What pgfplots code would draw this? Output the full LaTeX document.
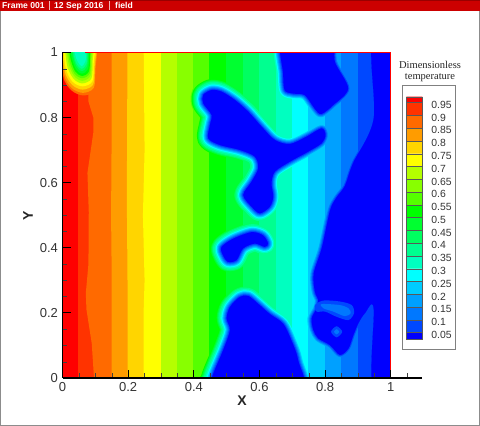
\documentclass[border=0pt]{standalone}
\usepackage{pgfplots}
\usepackage{fontspec}
\setmainfont{Liberation Sans}
\newfontfamily\serifttl{Liberation Serif}
\pgfplotsset{compat=1.18}
\usepackage{pgfplotstable}
\definecolor{c01}{HTML}{0000FF}\definecolor{c02}{HTML}{0048FF}\definecolor{c03}{HTML}{0078FF}
\definecolor{c04}{HTML}{00A0FF}\definecolor{c05}{HTML}{00CCFF}\definecolor{c06}{HTML}{00FFFF}
\definecolor{c07}{HTML}{00FFC0}\definecolor{c08}{HTML}{00FF90}\definecolor{c09}{HTML}{00FF60}
\definecolor{c10}{HTML}{00FF30}\definecolor{c11}{HTML}{00FF00}\definecolor{c12}{HTML}{55FF00}
\definecolor{c13}{HTML}{88FF00}\definecolor{c14}{HTML}{B4FF00}\definecolor{c15}{HTML}{FFFF00}
\definecolor{c16}{HTML}{FFD500}\definecolor{c17}{HTML}{FF9C00}\definecolor{c18}{HTML}{FF6A00}
\definecolor{c19}{HTML}{FF3300}\definecolor{c20}{HTML}{FF0000}
\definecolor{ticktxt}{HTML}{333333}
\definecolor{hdr}{HTML}{CC0000}
\pgfplotstableread{
0.4287 0.8694
0.4541 0.8848
0.4845 0.8797
0.5251 0.8541
0.5657 0.8182
0.6063 0.7722
0.6469 0.7312
0.6925 0.7189
0.7433 0.7414
0.7889 0.7670
0.8011 0.7466
0.7889 0.7210
0.7483 0.6954
0.6925 0.6646
0.6469 0.6339
0.6367 0.5981
0.6418 0.5571
0.6317 0.5264
0.6012 0.5059
0.5759 0.5264
0.5505 0.5622
0.5759 0.6032
0.5961 0.6442
0.5860 0.6800
0.5403 0.7005
0.4795 0.7158
0.4440 0.7363
0.4490 0.7773
0.4541 0.8080
0.4287 0.8438
}\bird
\pgfplotstableread{
0.484 0.402
0.520 0.428
0.576 0.448
0.611 0.438
0.626 0.413
0.616 0.403
0.586 0.413
0.550 0.398
0.530 0.362
0.504 0.357
0.489 0.377
}\blobtwo
\pgfplotstableread{
0.455 -0.05
0.455 0.000
0.490 0.087
0.510 0.147
0.500 0.183
0.510 0.218
0.540 0.249
0.566 0.252
0.596 0.228
0.631 0.197
0.672 0.167
0.697 0.116
0.718 0.054
0.725 -0.05
}\blobthree
\pgfplotstableread{
0.670 1.05
0.672 0.935
0.677 0.884
0.702 0.874
0.738 0.869
0.768 0.828
0.788 0.811
0.824 0.838
0.870 0.889
0.830 0.970
0.815 1.05
}\blobfour
\pgfplotstableread{
0.948 1.05
1.10 1.05
1.10 -0.05
0.950 -0.05
0.948 0.214
0.921 0.199
0.901 0.168
0.886 0.132
0.871 0.091
0.845 0.071
0.815 0.101
0.779 0.122
0.764 0.148
0.759 0.183
0.774 0.214
0.779 0.240
0.769 0.265
0.765 0.320
0.790 0.400
0.815 0.515
0.835 0.555
0.860 0.590
0.885 0.660
0.948 0.797
}\rightpart
\newcommand{\blob}[3]{\addplot[fill=#1,draw=#1,line width=#3,line join=round,smooth cycle,forget plot] table[x index=0,y index=1] {#2};}
\newcommand{\band}[2]{\addplot[fill=#1,draw=none,forget plot] coordinates {(#2,-0.05)(1.1,-0.05)(1.1,1.05)(#2,1.05)};}
\newcommand{\layer}[3]{\band{#1}{#2}%
 \blob{#1}{\bird}{#3}\blob{#1}{\blobtwo}{#3}\blob{#1}{\blobthree}{#3}\blob{#1}{\blobfour}{#3}\blob{#1}{\rightpart}{#3}}
\newcommand{\hot}[2]{\addplot[fill=#1,draw=none,smooth cycle,forget plot] coordinates {#2};}
\newcommand{\cb}[3]{\addplot[fill=#1,draw=black!65,line width=0.4pt,forget plot] coordinates {(0,#2)(1,#2)(1,#3)(0,#3)(0,#2)};}
\begin{document}
\begin{tikzpicture}[x=1pt,y=1pt]
\useasboundingbox (0,0) rectangle (480,426);
\fill[white] (0,0) rectangle (480,426);
\fill[black!45] (0,0) rectangle (1,415);
\fill[black!45] (479,0) rectangle (480,415);
\fill[black!45] (0,0) rectangle (480,1);
\fill[hdr] (0,415) rectangle (480,426);
\fill[hdr!75!black] (0,425.3) rectangle (480,426);
\fill[white!70!hdr] (49,415.5) rectangle (49.7,425);
\fill[white!70!hdr] (109,415.5) rectangle (109.7,425);
\begin{scope}[every node/.style={text=white,font=\fontsize{8.6}{9}\selectfont\bfseries,inner sep=0pt,anchor=base west}]
\node at (2,417.3) {Frame 001};
\node at (54,417.3) {12 Sep 2016};
\node at (115,417.3) {field};
\end{scope}
% contour field
\begin{axis}[at={(62.5pt,48pt)},anchor=south west,scale only axis,width=328.3pt,height=325.5pt,
  xmin=0,xmax=1,ymin=0,ymax=1,hide axis]
\addplot[fill=c20,draw=none,forget plot] coordinates {(-0.05,-0.05)(1.1,-0.05)(1.1,1.05)(-0.05,1.05)};
\band{c19}{0.048}
% T=0.9 contour wiggles
\addplot[fill=c18,draw=none,forget plot] coordinates {(0.098,-0.05)(0.096,0)(0.089,0.107)(0.073,0.21)(0.071,0.26)(0.079,0.35)(0.080,0.51)(0.076,0.63)(0.094,0.755)(0.094,0.80)(0.079,0.85)(0.079,1.05)(1.1,1.05)(1.1,-0.05)};
\addplot[fill=c17,draw=none,forget plot] coordinates {(0.150,-0.05)(0.150,0.3)(0.148,0.5)(0.150,0.8)(0.150,1.05)(1.1,1.05)(1.1,-0.05)};
\addplot[fill=c16,draw=none,forget plot] coordinates {(0.198,-0.05)(0.198,0.3)(0.196,0.55)(0.198,1.05)(1.1,1.05)(1.1,-0.05)};
\addplot[fill=c15,draw=none,forget plot] coordinates {(0.247,-0.05)(0.247,0.2)(0.250,0.3)(0.245,0.5)(0.250,0.7)(0.247,1.05)(1.1,1.05)(1.1,-0.05)};
\band{c14}{0.299}
\band{c13}{0.348}
\layer{c12}{0.398}{24pt}
\layer{c11}{0.447}{22pt}
\layer{c10}{0.499}{20pt}
\layer{c09}{0.549}{18pt}
\layer{c08}{0.599}{16pt}
\layer{c07}{0.649}{13pt}
\layer{c06}{0.699}{10.5pt}
\layer{c05}{0.749}{8.5pt}
\layer{c04}{0.799}{6.5pt}
\layer{c03}{0.849}{4.5pt}
\layer{c02}{0.899}{2.5pt}
\layer{c01}{0.949}{0.1pt}
% warmer finger and spot inside the cold pocket
\hot{c02}{(0.769,0.224)(0.795,0.238)(0.845,0.235)(0.881,0.224)(0.888,0.199)(0.871,0.178)(0.835,0.188)(0.80,0.204)(0.774,0.204)}
\hot{c03}{(0.789,0.227)(0.845,0.224)(0.871,0.214)(0.878,0.199)(0.860,0.190)(0.825,0.204)(0.795,0.214)}
\hot{c02}{(0.835,0.159)(0.852,0.142)(0.835,0.125)(0.818,0.142)}
\hot{c03}{(0.835,0.150)(0.843,0.142)(0.835,0.134)(0.827,0.142)}
% cold spot at the top left
\hot{c18}{(0.002,1.05)(0.002,0.928)(0.028,0.883)(0.064,0.868)(0.100,0.883)(0.105,0.938)(0.105,1.05)}
\hot{c17}{(0.004,1.05)(0.004,0.936)(0.028,0.891)(0.062,0.876)(0.095,0.891)(0.100,0.946)(0.100,1.05)}
\hot{c16}{(0.006,1.05)(0.006,0.946)(0.029,0.901)(0.061,0.886)(0.093,0.901)(0.098,0.956)(0.098,1.05)}
\hot{c15}{(0.009,1.05)(0.009,0.956)(0.030,0.911)(0.061,0.896)(0.091,0.911)(0.095,0.966)(0.095,1.05)}
\hot{c14}{(0.013,1.05)(0.013,0.965)(0.033,0.920)(0.060,0.905)(0.088,0.920)(0.092,0.975)(0.092,1.05)}
\hot{c13}{(0.017,1.05)(0.017,0.973)(0.035,0.928)(0.060,0.913)(0.085,0.928)(0.089,0.983)(0.089,1.05)}
\hot{c12}{(0.020,1.05)(0.020,0.981)(0.036,0.936)(0.060,0.921)(0.083,0.936)(0.086,0.991)(0.086,1.05)}
\hot{c11}{(0.023,1.05)(0.023,0.988)(0.038,0.943)(0.060,0.928)(0.081,0.943)(0.084,0.998)(0.084,1.05)}
\hot{c10}{(0.026,1.05)(0.026,0.995)(0.040,0.950)(0.059,0.935)(0.078,0.950)(0.081,1.000)(0.081,1.05)}
\hot{c09}{(0.030,1.05)(0.030,1.000)(0.042,0.958)(0.059,0.943)(0.075,0.958)(0.078,1.000)(0.078,1.05)}
\hot{c08}{(0.033,1.05)(0.033,1.000)(0.043,0.965)(0.058,0.950)(0.073,0.965)(0.075,1.000)(0.075,1.05)}
\hot{c07}{(0.037,1.05)(0.037,1.000)(0.046,0.973)(0.058,0.958)(0.070,0.973)(0.072,1.000)(0.072,1.05)}
\end{axis}
% axes frame and ticks
\begin{axis}[at={(62.5pt,48pt)},anchor=south west,scale only axis,width=359.3pt,height=325.5pt,
  xmin=0,xmax=1.0945,ymin=0,ymax=1,clip=false,axis lines=left,
  axis line style={-,line width=1.3pt,black},
  xtick={0,0.2,0.4,0.6,0.8,1},ytick={0,0.2,0.4,0.6,0.8,1},
  minor xtick={0.05,0.1,0.15,0.25,0.3,0.35,0.45,0.5,0.55,0.65,0.7,0.75,0.85,0.9,0.95,1.05},
  minor ytick={0.05,0.1,0.15,0.25,0.3,0.35,0.45,0.5,0.55,0.65,0.7,0.75,0.85,0.9,0.95},
  tick align=inside,major tick length=8pt,minor tick length=4.5pt,
  major tick style={black,line width=1pt},minor tick style={black!75,line width=0.4pt},
  tick label style={font=\fontsize{13}{13}\selectfont,text=ticktxt},
  xticklabel style={yshift=-1pt},yticklabel style={xshift=-1pt},
  /pgf/number format/assume math mode=true]
\addplot[red,line width=1.3pt,forget plot] coordinates {(0.07,1)(1,1)(1,0.025)};
\end{axis}
\node[font=\fontsize{14}{14}\selectfont\bfseries,text=black!85] at (242,25) {X};
\node[font=\fontsize{14}{14}\selectfont\bfseries,text=black!85,rotate=90] at (28,210) {Y};
% legend
\draw[black!50,line width=0.8pt,fill=white] (402.3,77) rectangle (455.7,341);
\node[font=\serifttl\fontsize{10.5}{10.5}\selectfont,align=center,text=black!85] at (430,354.5) {Dimensionless\\[0pt]temperature};
\begin{axis}[at={(406.3pt,86.7pt)},anchor=south west,scale only axis,width=16pt,height=242.6pt,
  xmin=0,xmax=1,ymin=0.024,ymax=0.973,axis line style={draw=none},clip=false,
  xtick=\empty,ytick={0.05,0.1,0.15,0.2,0.25,0.3,0.35,0.4,0.45,0.5,0.55,0.6,0.65,0.7,0.75,0.8,0.85,0.9,0.95},
  ytick pos=right,yticklabel pos=right,major tick length=0pt,
  scaled y ticks=false,
  tick label style={font=\fontsize{10.4}{10.4}\selectfont,text=ticktxt},
  yticklabel style={yshift=-2.2pt,xshift=5.5pt,/pgf/number format/fixed,/pgf/number format/precision=2},
  /pgf/number format/assume math mode=true]
\cb{c01}{0.024}{0.05}\cb{c02}{0.05}{0.1}\cb{c03}{0.1}{0.15}\cb{c04}{0.15}{0.2}\cb{c05}{0.2}{0.25}
\cb{c06}{0.25}{0.3}\cb{c07}{0.3}{0.35}\cb{c08}{0.35}{0.4}\cb{c09}{0.4}{0.45}\cb{c10}{0.45}{0.5}
\cb{c11}{0.5}{0.55}\cb{c12}{0.55}{0.6}\cb{c13}{0.6}{0.65}\cb{c14}{0.65}{0.7}\cb{c15}{0.7}{0.75}
\cb{c16}{0.75}{0.8}\cb{c17}{0.8}{0.85}\cb{c18}{0.85}{0.9}\cb{c19}{0.9}{0.95}\cb{c20}{0.95}{0.973}
\end{axis}
\end{tikzpicture}
\end{document}
